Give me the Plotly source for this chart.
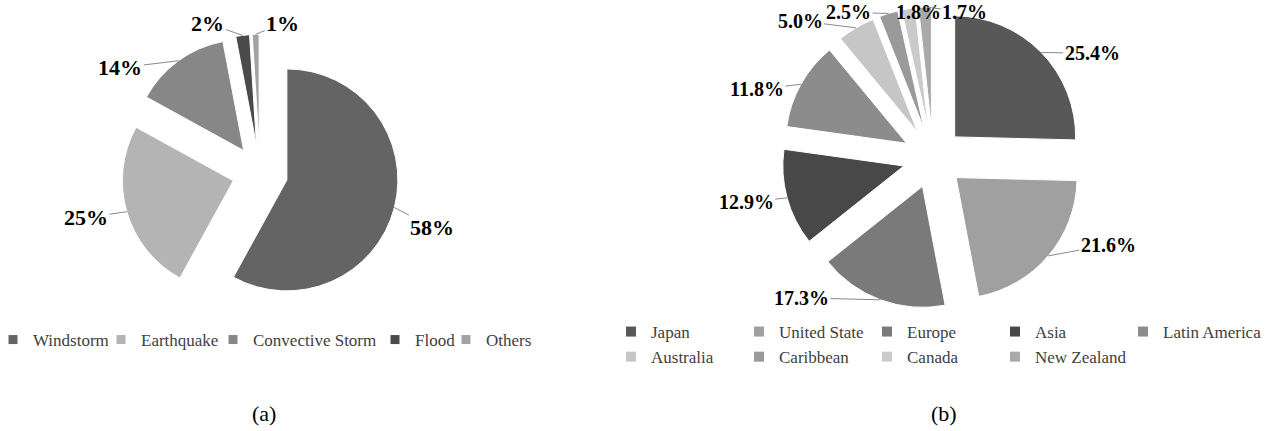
import math
import plotly.graph_objects as go

W, H = 1267, 431

# ---- data (a) ----
hazard_labels = ["Windstorm", "Earthquake", "Convective Storm", "Flood", "Others"]
hazard_values = [58, 25, 14, 2, 1]
hazard_colors = ["#646464", "#b4b4b4", "#878787", "#4a4a4a", "#a2a2a2"]

# ---- data (b) ----
region_labels = ["Japan", "United State", "Europe", "Asia", "Latin America",
                 "Australia", "Caribbean", "Canada", "New Zealand"]
region_values = [25.4, 21.6, 17.3, 12.9, 11.8, 5.0, 2.5, 1.8, 1.7]
region_colors = ["#585858", "#a0a0a0", "#7a7a7a", "#484848", "#8c8c8c",
                 "#c6c6c6", "#9a9a9a", "#cacaca", "#a9a9a9"]

captions = ["(a)", "(b)"]

SERIF = "Liberation Serif, Times New Roman, serif"

# ---- layout / style settings (pixels) ----
PIE_A = dict(cx=260, cy=173, r=111, pull=0.25, fmt="{:.0f}%", size=22)
PIE_B = dict(cx=933, cy=158, r=121, pull=0.25, fmt="{:.1f}%", size=20)
# pixel offsets of each data label from the outer edge of its slice
LABEL_OFFSETS_A = [(38, 20), (-41, 6), (-58, 7), (-35, -12), (27, -11)]
LABEL_OFFSETS_B = [(51, 1), (60, -11), (-79, -2), (-41, 4), (-44, 5),
                   (-56, -7), (-40, -1), (10, 3), (40, 5)]
# legend entry widths (px) for the two legends
LEGEND_W_A = [63, 67, 117, 26, 50]
LEGEND_W_B = [83, 83, 83, 83, 105, 83, 83, 83, 83]


def dom(p):
    half = p["r"] * (1 + p["pull"])
    return dict(x=[(p["cx"] - half) / W, (p["cx"] + half) / W],
                y=[1 - (p["cy"] + half) / H, 1 - (p["cy"] - half) / H])


def slice_labels(values, p, offsets):
    """Leader-line labels anchored at the mid-angle of each slice (clockwise from 12 o'clock)."""
    total = float(sum(values))
    out = []
    cum = 0.0
    R = p["r"] * (1 + p["pull"])
    for v, (dx, dy) in zip(values, offsets):
        mid = (cum + v / 2.0) / total * 2 * math.pi
        cum += v
        px = p["cx"] + R * math.sin(mid)
        py = p["cy"] - R * math.cos(mid)
        out.append(dict(
            text=p["fmt"].format(v), x=px / W, y=1 - py / H, xref="paper", yref="paper",
            showarrow=True, arrowhead=0, arrowwidth=1, arrowcolor="#8a8a8a",
            ax=dx, ay=dy, axref="pixel", ayref="pixel", standoff=0, startstandoff=0,
            font=dict(family=SERIF, size=p["size"], color="black", weight="bold"),
        ))
    return out


fig = go.Figure()

fig.add_trace(go.Pie(
    labels=hazard_labels, values=hazard_values,
    marker=dict(colors=hazard_colors, line=dict(color="white", width=1)),
    sort=False, direction="clockwise", rotation=0,
    pull=[PIE_A["pull"]] * len(hazard_values),
    textinfo="none", domain=dom(PIE_A),
    showlegend=False, hoverinfo="label+percent",
))

fig.add_trace(go.Pie(
    labels=region_labels, values=region_values,
    marker=dict(colors=region_colors, line=dict(color="white", width=1)),
    sort=False, direction="clockwise", rotation=0,
    pull=[PIE_B["pull"]] * len(region_values),
    textinfo="none", domain=dom(PIE_B),
    showlegend=False, hoverinfo="label+percent",
))

# legend (a): one row
for lab, col, lw in zip(hazard_labels, hazard_colors, LEGEND_W_A):
    fig.add_trace(go.Scatter(
        x=[None], y=[None], mode="markers", name=lab,
        marker=dict(symbol="square", size=9, color=col),
        legend="legend", legendwidth=lw, showlegend=True, hoverinfo="skip",
    ))

# legend (b): 5 columns x 2 rows
ncol = 5
for i, (lab, col, lw) in enumerate(zip(region_labels, region_colors, LEGEND_W_B)):
    fig.add_trace(go.Scatter(
        x=[None], y=[None], mode="markers", name=lab,
        marker=dict(symbol="square", size=10, color=col),
        legend="legend2", legendgroup="c%d" % (i % ncol), legendwidth=lw,
        showlegend=True, hoverinfo="skip",
    ))

annotations = slice_labels(hazard_values, PIE_A, LABEL_OFFSETS_A)
annotations += slice_labels(region_values, PIE_B, LABEL_OFFSETS_B)
annotations += [
    dict(text=captions[0], x=264 / W, y=1 - 413 / H, xref="paper", yref="paper",
         xanchor="center", yanchor="middle",
         showarrow=False, font=dict(family=SERIF, size=22, color="black")),
    dict(text=captions[1], x=944 / W, y=1 - 413 / H, xref="paper", yref="paper",
         xanchor="center", yanchor="middle",
         showarrow=False, font=dict(family=SERIF, size=22, color="black")),
]

fig.update_layout(
    width=W, height=H,
    margin=dict(l=0, r=0, t=0, b=0, autoexpand=False),
    paper_bgcolor="white", plot_bgcolor="white",
    xaxis=dict(visible=False), yaxis=dict(visible=False),
    font=dict(family=SERIF, color="#404040"),
    legend=dict(orientation="h", x=-7 / W, xanchor="left", y=1 - 340 / H, yanchor="middle",
                font=dict(family=SERIF, size=17, color="#404040"),
                bgcolor="rgba(0,0,0,0)"),
    legend2=dict(orientation="h", x=611 / W, xanchor="left", y=1 - 314 / H, yanchor="top",
                 font=dict(family=SERIF, size=17, color="#404040"),
                 traceorder="grouped", tracegroupgap=0,
                 bgcolor="rgba(0,0,0,0)"),
    annotations=annotations,
)

fig.write_html("out.html",
               config={"displayModeBar": False},
               post_script="document.body.style.margin='0px';"
                           "document.body.style.overflow='hidden';")
